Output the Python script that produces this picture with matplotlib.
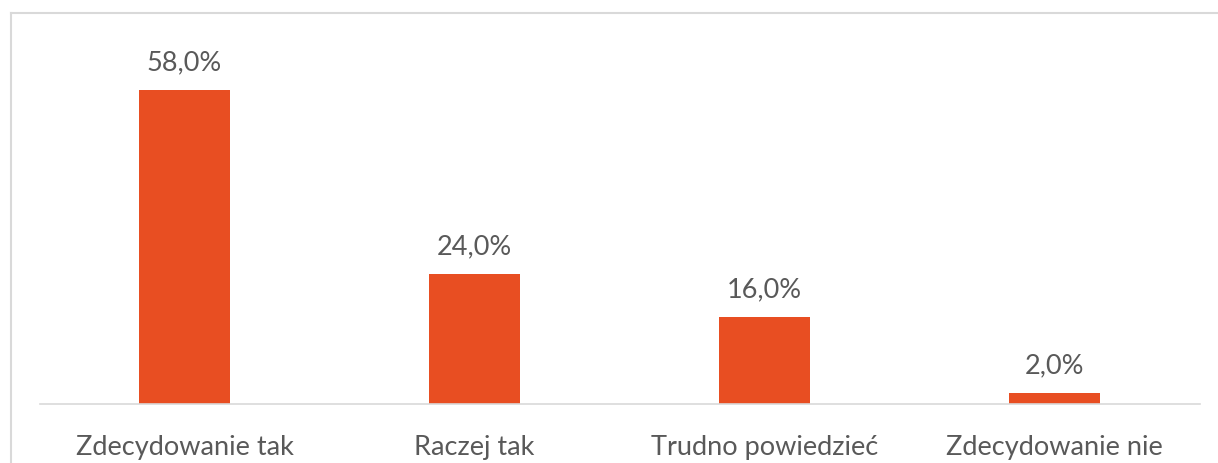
import matplotlib.pyplot as plt
from matplotlib.lines import Line2D

categories = ['Zdecydowanie tak', 'Raczej tak', 'Trudno powiedzieć', 'Zdecydowanie nie']
values = [58.0, 24.0, 16.0, 2.0]
labels = ['58,0%', '24,0%', '16,0%', '2,0%']

bar_color = '#E84E22'
text_color = '#595959'

plt.rcParams['font.family'] = ['Lato', 'DejaVu Sans']

W, H = 1218, 463
fig = plt.figure(figsize=(W / 100, H / 100), dpi=100)

# plot area in pixels: x 39.5..1199.5, baseline at y=404
left, right = 39.5, 1199.5
base, top = 404, 25
ax = fig.add_axes([left / W, (H - base) / H, (right - left) / W, (base - top) / H])

x = range(len(categories))
ax.bar(x, values, width=0.314, color=bar_color)
ax.set_xlim(-0.5, len(categories) - 0.5)
ax.set_ylim(0, (base - top) / (314 / 58.0))

for xi, v, lab in zip(x, values, labels):
    ax.annotate(lab, (xi, v), xytext=(0, 10.5), textcoords='offset points',
                ha='center', va='bottom', fontsize=19.5, color=text_color)

ax.set_xticks(list(x))
ax.set_xticklabels(categories, fontsize=19.5, color=text_color)
ax.tick_params(axis='x', length=0, pad=22)
ax.set_yticks([])
for s in ['top', 'right', 'left']:
    ax.spines[s].set_visible(False)
ax.spines['bottom'].set_color('#D9D9D9')
ax.spines['bottom'].set_linewidth(1.2)

# chart frame (left and top edges)
fig.add_artist(Line2D([10.5 / W, 10.5 / W], [0, (H - 13) / H], color='#D9D9D9', lw=1.5))
fig.add_artist(Line2D([10.5 / W, 1], [(H - 13) / H, (H - 13) / H], color='#D9D9D9', lw=1.5))

fig.savefig('out.png', dpi=100)
